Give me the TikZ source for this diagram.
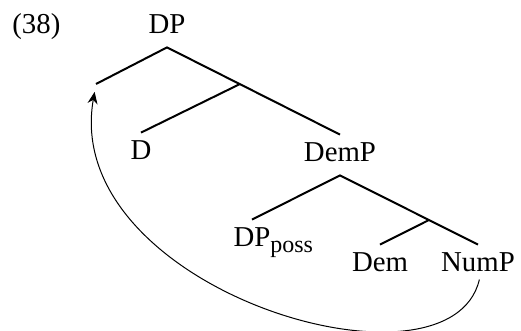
\documentclass[tikz,border=0pt]{standalone}
\usepackage{fontspec}
\setmainfont{Liberation Serif}
\usetikzlibrary{arrows.meta, positioning}

\newcommand{\possub}[1]{\rlap{\raisebox{-3pt}{\fontsize{12}{14}\selectfont #1}}}

\begin{document}
\begin{tikzpicture}[x=0.5pt, y=-0.5pt,
    cat/.style={inner xsep=1pt, inner ysep=3.5pt, text height=10pt, text depth=3pt, font=\fontsize{14.4}{17}\selectfont},
    branch/.style={line width=1pt},
    move/.style={line width=0.5pt, -{Stealth[length=6pt, width=5pt]}}
]
    \useasboundingbox (0,0) rectangle (521,331);
    \node[cat, anchor=base west] (exnum) at (10,34) {(38)};

    % DP layer
    \node[cat, anchor=base] (dp) at (167,34) {DP};
    \coordinate (spec) at (96,84);
    \coordinate (dbar) at (240,84);
    \node[cat, anchor=base] (d) at (141,160) {D};
    \node[cat, anchor=base] (demp) at (340,162) {DemP};

    % DemP layer
    \node[cat, anchor=base] (poss) at (252,247) {DP\possub{poss}};
    \coordinate (dembar) at (429,220);
    \node[cat, anchor=base] (dem) at (380,272) {Dem};
    \node[cat, anchor=base] (nump) at (478,272) {NumP};

    % Branches
    \draw[branch] (spec) -- (dp.south) -- (demp.north);
    \draw[branch] (dbar) -- (d.north);
    \draw[branch] (poss.north) -- (demp.south) -- (nump.north);
    \draw[branch] (dembar) -- (dem.north);

    % Movement
    \draw[move, shorten <=-3pt, shorten >=4pt] (nump.south) .. controls (450,405) and (60,290) .. (spec);
\end{tikzpicture}
\end{document}
